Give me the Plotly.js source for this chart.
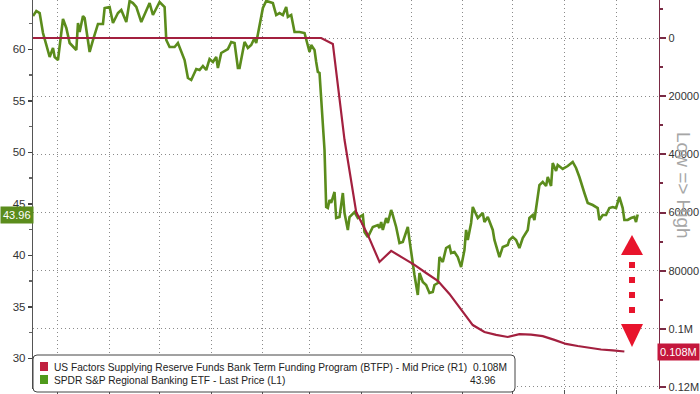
<!DOCTYPE html>
<html>
<head>
<meta charset="utf-8">
<script src="https://cdn.plot.ly/plotly-3.0.1.min.js"></script>
<style>html,body{margin:0;padding:0;background:#fff;}#chart{width:700px;height:394px;}</style>
</head>
<body>
<div id="chart"></div>
<script>
// ---------- DATA ----------
const kreName = "SPDR S&P Regional Banking ETF - Last Price (L1)";
const btfpName = "US Factors Supplying Reserve Funds Bank Term Funding Program (BTFP) - Mid Price (R1)";
const kreLastLabel = "43.96";
const btfpLastLabel = "0.108M";

const kreDates = [
 '2022-09-16','2022-09-18','2022-09-20','2022-09-22','2022-09-24','2022-09-26','2022-09-28','2022-09-29',
 '2022-10-01','2022-10-04','2022-10-06','2022-10-08','2022-10-12','2022-10-13','2022-10-14','2022-10-16',
 '2022-10-17','2022-10-20','2022-10-22','2022-10-25','2022-10-28','2022-10-29','2022-11-01','2022-11-03',
 '2022-11-06','2022-11-08','2022-11-11','2022-11-13','2022-11-15','2022-11-17','2022-11-20','2022-11-25',
 '2022-11-27','2022-12-01','2022-12-04','2022-12-05','2022-12-07','2022-12-10','2022-12-12','2022-12-16',
 '2022-12-18','2022-12-20','2022-12-23','2022-12-25','2022-12-27','2022-12-29','2022-12-31','2023-01-02',
 '2023-01-04','2023-01-05','2023-01-07','2023-01-11','2023-01-13','2023-01-15','2023-01-17','2023-01-18',
 '2023-01-21','2023-01-23','2023-01-25','2023-01-27','2023-01-28','2023-01-30','2023-02-01','2023-02-03',
 '2023-02-05','2023-02-07','2023-02-09','2023-02-11','2023-02-13','2023-02-15','2023-02-16','2023-02-18',
 '2023-02-20','2023-02-23','2023-02-26','2023-02-27','2023-03-01','2023-03-02','2023-03-04','2023-03-05',
 '2023-03-06','2023-03-07','2023-03-08','2023-03-09','2023-03-10','2023-03-11','2023-03-12','2023-03-13',
 '2023-03-14','2023-03-16','2023-03-17','2023-03-19','2023-03-21','2023-03-22','2023-03-24','2023-03-25',
 '2023-03-28','2023-03-30','2023-04-02','2023-04-03','2023-04-05','2023-04-08','2023-04-11','2023-04-12',
 '2023-04-13','2023-04-14','2023-04-16','2023-04-17','2023-04-19','2023-04-20','2023-04-22','2023-04-24',
 '2023-04-26','2023-04-28','2023-04-29','2023-04-30','2023-05-02','2023-05-03','2023-05-05','2023-05-06',
 '2023-05-08','2023-05-10','2023-05-12','2023-05-14','2023-05-15','2023-05-17','2023-05-18','2023-05-20',
 '2023-05-22','2023-05-24','2023-05-25','2023-05-27','2023-05-29','2023-05-31','2023-06-02','2023-06-03',
 '2023-06-04','2023-06-06','2023-06-07','2023-06-10','2023-06-13','2023-06-14','2023-06-16','2023-06-19',
 '2023-06-20','2023-06-23','2023-06-25','2023-06-28','2023-06-29','2023-07-01','2023-07-03','2023-07-05',
 '2023-07-07','2023-07-10','2023-07-11','2023-07-13','2023-07-14','2023-07-17','2023-07-19','2023-07-21',
 '2023-07-22','2023-07-24','2023-07-25','2023-07-27','2023-07-28','2023-07-31','2023-08-03','2023-08-06',
 '2023-08-08','2023-08-10','2023-08-13','2023-08-15','2023-08-18','2023-08-21','2023-08-22','2023-08-24',
 '2023-08-26','2023-08-28','2023-08-30','2023-09-01','2023-09-03','2023-09-05','2023-09-06','2023-09-08',
 '2023-09-10','2023-09-12','2023-09-13','2023-09-14'
];
const kreValues = [
 63.23,63.72,63.52,61.58,60.42,59.25,60.13,59.25,
 58.96,62.94,62.07,60.61,59.93,62.55,61.68,63.23,
 63.04,59.74,60.90,62.46,62.46,64.01,64.11,62.55,
 63.52,63.82,62.65,64.69,64.49,64.11,62.65,64.49,
 63.33,64.59,64.11,60.90,60.22,60.22,60.61,58.96,
 57.21,57.02,58.09,57.99,58.38,57.99,59.06,58.77,
 59.25,58.19,59.64,60.03,60.71,60.61,58.19,58.19,
 60.71,60.13,60.42,61.10,60.61,62.16,64.01,64.70,
 64.59,64.49,63.33,63.52,63.33,64.11,63.14,63.33,
 61.68,61.68,61.58,60.90,59.74,60.42,59.93,58.77,
 57.80,57.70,55.08,51.87,50.22,44.69,44.59,45.37,
 45.08,46.15,43.62,43.72,46.05,44.11,42.46,43.72,
 44.20,43.62,43.91,42.26,41.77,42.75,42.94,42.65,
 43.23,42.46,43.62,43.14,44.40,43.91,42.75,41.19,
 41.29,42.26,42.75,41.49,38.86,38.09,36.15,38.28,
 37.41,37.12,36.34,36.44,37.12,37.31,39.83,39.35,
 40.71,40.90,40.22,40.32,39.83,38.86,40.51,42.46,
 41.49,43.14,44.69,43.62,44.11,43.23,43.72,42.46,
 41.49,39.83,40.81,41.00,41.49,41.77,41.49,40.71,
 41.68,42.46,43.62,43.91,43.43,46.82,47.12,46.73,
 47.60,46.73,48.96,48.19,48.77,48.38,48.67,49.06,
 48.48,47.60,46.05,45.08,44.88,44.59,43.43,43.91,
 43.91,44.59,44.69,44.59,45.66,44.59,43.43,43.43,
 43.62,43.72,43.23,43.96
];

const btfpDates = [
 '2022-09-16','2023-03-08','2023-03-15','2023-03-22','2023-03-29','2023-04-05','2023-04-12','2023-04-19',
 '2023-04-26','2023-05-03','2023-05-10','2023-05-17','2023-05-24','2023-05-31','2023-06-07','2023-06-14',
 '2023-06-21','2023-06-28','2023-07-05','2023-07-12','2023-07-19','2023-07-26','2023-08-02','2023-08-09',
 '2023-08-16','2023-08-23','2023-08-30','2023-09-06'
];
const btfpValues = [
 0,0,2060,35000,59800,67700,77000,73200,
 75600,78000,80800,83500,88000,93200,98700,101100,
 102100,102800,101800,102000,102500,103800,105200,105900,
 106600,107100,107400,107800
];

const leftTicks = [30,35,40,45,50,55,60];
const leftMinor = [32.5,37.5,42.5,47.5,52.5,57.5,62.5];
const rightTicks = [0,20000,40000,60000,80000,100000,120000];
const rightTickText = ['0','20000','40000','60000','80000','0.1M','0.12M'];
const rightMinor = [-10000,10000,30000,50000,70000,90000,110000];
const monthTicks = ['2022-10-01','2022-11-01','2022-12-01','2023-01-01','2023-02-01','2023-03-01',
 '2023-04-01','2023-05-01','2023-06-01','2023-07-01','2023-08-01','2023-09-01'];

// ---------- STYLE / LAYOUT ----------
const GREEN = '#5b8c1c', RED = '#a3203f', ARROW = '#e8142c';
const FONT = 'Liberation Sans, Arial, sans-serif';
const L = 33, R = 659, T = 0, B = 389;
const px = x => (x - L) / (R - L);
const py = y => (B - y) / (B - T);

function roundRect(x0, y0, x1, y1, r) {
  return `M${px(x0+r)},${py(y0)} L${px(x1-r)},${py(y0)} Q${px(x1)},${py(y0)} ${px(x1)},${py(y0+r)} ` +
         `L${px(x1)},${py(y1-r)} Q${px(x1)},${py(y1)} ${px(x1-r)},${py(y1)} L${px(x0+r)},${py(y1)} ` +
         `Q${px(x0)},${py(y1)} ${px(x0)},${py(y1-r)} L${px(x0)},${py(y0+r)} Q${px(x0)},${py(y0)} ${px(x0+r)},${py(y0)} Z`;
}
function poly(pts) {
  return 'M' + pts.map(p => `${px(p[0])},${py(p[1])}`).join(' L') + ' Z';
}

const traces = [
  {x: kreDates, y: kreValues, name: kreName, type: 'scatter', mode: 'lines',
   line: {color: GREEN, width: 2.6}, yaxis: 'y', hoverinfo: 'skip'},
  {x: btfpDates, y: btfpValues, name: btfpName, type: 'scatter', mode: 'lines',
   line: {color: RED, width: 2.2}, yaxis: 'y2', hoverinfo: 'skip'}
];

const kreLast = kreValues[kreValues.length - 1];
const btfpLast = btfpValues[btfpValues.length - 1];
const yLeftRange = [27.02, 64.786];
const yRightRange = [120690, -13066];
const yPix = v => B - (v - yLeftRange[0]) / (yLeftRange[1] - yLeftRange[0]) * (B - T);
const y2Pix = v => T + (v - yRightRange[1]) / (yRightRange[0] - yRightRange[1]) * (B - T);
const gy = yPix(kreLast), ry = y2Pix(btfpLast);

const shapes = [
  {type: 'path', xref: 'paper', yref: 'paper', path: poly([[27, gy-6],[32, gy],[27, gy+6]]),
   fillcolor: GREEN, line: {width: 0}},
  {type: 'path', xref: 'paper', yref: 'paper', path: poly([[664, ry-6],[659, ry],[664, ry+6]]),
   fillcolor: '#c4173c', line: {width: 0}},
  {type: 'path', xref: 'paper', yref: 'paper', path: poly([[632,235],[643,255],[621,255]]), fillcolor: ARROW, line: {width: 0}},
  {type: 'path', xref: 'paper', yref: 'paper', path: poly([[629,262],[635,262],[635,268],[629,268]]), fillcolor: ARROW, line: {width: 0}},
  {type: 'path', xref: 'paper', yref: 'paper', path: poly([[629,277],[635,277],[635,283],[629,283]]), fillcolor: ARROW, line: {width: 0}},
  {type: 'path', xref: 'paper', yref: 'paper', path: poly([[629,292],[635,292],[635,298],[629,298]]), fillcolor: ARROW, line: {width: 0}},
  {type: 'path', xref: 'paper', yref: 'paper', path: poly([[629,307],[635,307],[635,313],[629,313]]), fillcolor: ARROW, line: {width: 0}},
  {type: 'path', xref: 'paper', yref: 'paper', path: poly([[621,324],[643,324],[632,347]]), fillcolor: ARROW, line: {width: 0}},
  {type: 'path', xref: 'paper', yref: 'paper', path: roundRect(33, 355, 515, 392, 4),
   fillcolor: '#ffffff', line: {color: '#444', width: 1}},
  {type: 'path', xref: 'paper', yref: 'paper', path: poly([[40,362],[48,362],[48,371],[40,371]]), fillcolor: '#c0213f', line: {width: 0}},
  {type: 'path', xref: 'paper', yref: 'paper', path: poly([[40,375],[48,375],[48,384],[40,384]]), fillcolor: '#4f9a1c', line: {width: 0}}
];

const LEG = 10.2;
const annotations = [
  {xref: 'paper', yref: 'paper', x: px(684), y: py(185), text: 'Low => High', textangle: 90,
   showarrow: false, font: {family: FONT, size: 19, color: '#a6a6a6'}, xanchor: 'center', yanchor: 'middle'},
  {xref: 'paper', yref: 'paper', x: px(0), y: py(gy), text: kreLastLabel, showarrow: false, xanchor: 'left', yanchor: 'middle',
   bgcolor: GREEN, font: {family: FONT, size: 11, color: '#ffffff'}, borderpad: 2},
  {xref: 'paper', yref: 'paper', x: px(700), y: py(ry), text: btfpLastLabel, showarrow: false, xanchor: 'right', yanchor: 'middle',
   bgcolor: '#c4173c', font: {family: FONT, size: 11, color: '#ffffff'}, borderpad: 2},
  {xref: 'paper', yref: 'paper', x: px(52), y: py(367), text: btfpName, showarrow: false, xanchor: 'left', yanchor: 'middle',
   font: {family: FONT, size: LEG, color: '#222'}},
  {xref: 'paper', yref: 'paper', x: px(52), y: py(380), text: kreName, showarrow: false, xanchor: 'left', yanchor: 'middle',
   font: {family: FONT, size: LEG, color: '#222'}},
  {xref: 'paper', yref: 'paper', x: px(509), y: py(367), text: btfpLastLabel, showarrow: false, xanchor: 'right', yanchor: 'middle',
   font: {family: FONT, size: LEG, color: '#222'}},
  {xref: 'paper', yref: 'paper', x: px(498), y: py(380), text: kreLastLabel, showarrow: false, xanchor: 'right', yanchor: 'middle',
   font: {family: FONT, size: LEG, color: '#222'}}
];

const layout = {
  width: 700, height: 394,
  margin: {l: L, r: 700 - R, t: T, b: 394 - B, pad: 0},
  paper_bgcolor: '#ffffff', plot_bgcolor: '#ffffff',
  showlegend: false,
  font: {family: FONT, size: 11, color: '#333'},
  xaxis: {
    type: 'date', range: ['2022-09-16', '2023-09-26 19:00'],
    tickmode: 'array', tickvals: monthTicks, showticklabels: false,
    ticks: 'outside', ticklen: 5, tickcolor: '#555',
    showgrid: true, gridcolor: '#8a8a8a', griddash: '1px,3px', gridwidth: 1,
    showline: false, zeroline: false, fixedrange: true
  },
  yaxis: {
    range: yLeftRange, side: 'left',
    tickmode: 'array', tickvals: leftTicks, ticks: 'outside', ticklen: 4, tickwidth: 1.5, tickcolor: '#444',
    tickfont: {family: FONT, size: 11.5, color: '#333'},
    minor: {tickmode: 'array', tickvals: leftMinor, ticks: 'outside', ticklen: 3, tickcolor: '#666', showgrid: false},
    showgrid: false, showline: true, linecolor: '#555', linewidth: 1.2, zeroline: false, fixedrange: true
  },
  yaxis2: {
    range: yRightRange, side: 'right', overlaying: 'y',
    tickmode: 'array', tickvals: rightTicks, ticktext: rightTickText,
    ticks: 'outside', ticklen: 6, tickwidth: 2, tickcolor: '#7a2a44',
    tickfont: {family: FONT, size: 11, color: '#333'},
    minor: {tickmode: 'array', tickvals: rightMinor, ticks: 'outside', ticklen: 3, tickcolor: '#7a2a44', showgrid: false},
    showgrid: true, gridcolor: '#8a8a8a', griddash: '1px,3px', gridwidth: 1,
    showline: true, linecolor: '#7a2a44', linewidth: 1.3, zeroline: false, fixedrange: true
  },
  shapes: shapes,
  annotations: annotations
};

Plotly.newPlot('chart', traces, layout, {staticPlot: true, displayModeBar: false});
</script>
</body>
</html>
